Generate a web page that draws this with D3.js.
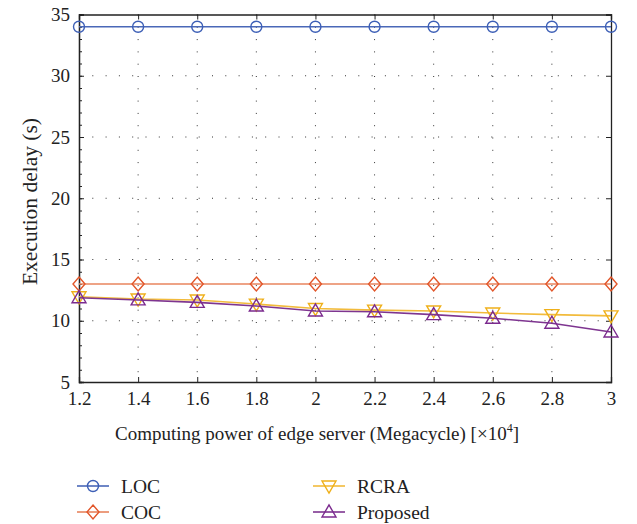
<!DOCTYPE html>
<html>
<head>
<meta charset="utf-8">
<script src="https://cdn.jsdelivr.net/npm/d3@7"></script>
<style>
  body { margin: 0; background: #fff; }
  text { font-family: "Liberation Serif", "DejaVu Serif", serif; fill: #222; }
</style>
</head>
<body>
<div id="chart"></div>
<script>
"use strict";

// data
var xVals = [1.2, 1.4, 1.6, 1.8, 2.0, 2.2, 2.4, 2.6, 2.8, 3.0];
var loc = [34, 34, 34, 34, 34, 34, 34, 34, 34, 34];
var coc = [13, 13, 13, 13, 13, 13, 13, 13, 13, 13];
var rcra = [11.96, 11.77, 11.69, 11.36, 11.0, 10.87, 10.8, 10.63, 10.5, 10.4];
var proposed = [11.88, 11.7, 11.5, 11.2, 10.8, 10.73, 10.5, 10.2, 9.8, 9.08];
var xTicks = [1.2, 1.4, 1.6, 1.8, 2, 2.2, 2.4, 2.6, 2.8, 3];
var yTicks = [5, 10, 15, 20, 25, 30, 35];

var series = [
  { name: "LOC", values: loc, color: "#3d5fb6", line: "#4a68b8", marker: "circle" },
  { name: "COC", values: coc, color: "#e2562a", line: "#e8845e", marker: "diamond" },
  { name: "RCRA", values: rcra, color: "#efb01a", line: "#f2bb3c", marker: "down" },
  { name: "Proposed", values: proposed, color: "#7b2a8e", line: "#7e3590", marker: "up" }
];

var W = 637, H = 524;
var margin = { top: 14.5, left: 79, right: 26, bottom: 142 };
var width = W - margin.left - margin.right,
    height = H - margin.top - margin.bottom;

var svg = d3.select("#chart").append("svg")
  .attr("width", W).attr("height", H);

var g = svg.append("g")
  .attr("transform", "translate(" + margin.left + "," + margin.top + ")");

var x = d3.scaleLinear().domain([1.2, 3]).range([0, width]);
var y = d3.scaleLinear().domain([5, 35]).range([height, 0]);

// dotted grid
g.append("g").selectAll("line.gx")
  .data(xTicks.slice(1, -1)).enter().append("line")
  .attr("x1", d => x(d)).attr("x2", d => x(d))
  .attr("y1", 0).attr("y2", height)
  .attr("stroke", "#333").attr("stroke-width", 1)
  .attr("stroke-dasharray", "1,11.3");
g.append("g").selectAll("line.gy")
  .data(yTicks.slice(1, -1)).enter().append("line")
  .attr("y1", d => y(d)).attr("y2", d => y(d))
  .attr("x1", 0).attr("x2", width)
  .attr("stroke", "#333").attr("stroke-width", 1)
  .attr("stroke-dasharray", "1,12.3");

// axes with inward ticks
var xAxis = d3.axisBottom(x).tickValues(xTicks).tickSize(-5).tickPadding(9)
  .tickFormat(d3.format("~g"));
var yAxis = d3.axisLeft(y).tickValues(yTicks).tickSize(-5).tickPadding(9);

var gx = g.append("g").attr("transform", "translate(0," + height + ")").call(xAxis);
var gy = g.append("g").call(yAxis);
g.append("g").call(d3.axisTop(x).tickValues(xTicks).tickSize(-5).tickFormat(""));
g.append("g").attr("transform", "translate(" + width + ",0)")
  .call(d3.axisRight(y).tickValues(yTicks).tickSize(-5).tickFormat(""));
// minor ticks on the left axis
g.append("g").call(d3.axisLeft(y).tickValues(d3.range(5, 36, 1)).tickSize(-3).tickFormat(""));

g.selectAll(".domain").attr("stroke", "#222").attr("stroke-width", 1.3);
g.selectAll(".tick line").attr("stroke", "#222");
g.selectAll(".tick text").style("font-size", "19px").attr("fill", "#222")
  .style("font-family", "'Liberation Serif', serif");
gx.selectAll(".tick text").attr("dy", "0.72em");

// lines and markers
var line = d3.line().x((d, i) => x(xVals[i])).y(d => y(d));

function marker(sel, type, color) {
  if (type === "circle") {
    sel.append("circle").attr("r", 5.5);
  } else if (type === "diamond") {
    sel.append("path").attr("d", "M0,-7L6,0L0,7L-6,0Z");
  } else if (type === "down") {
    sel.append("path").attr("d", "M-7,-5L7,-5L0,7Z");
  } else {
    sel.append("path").attr("d", "M-7,5L7,5L0,-7Z");
  }
  sel.selectAll("circle,path").attr("fill", "none").attr("stroke", color).attr("stroke-width", 1.4);
}

series.forEach(function (s) {
  g.append("path").datum(s.values)
    .attr("d", line)
    .attr("fill", "none").attr("stroke", s.line).attr("stroke-width", 1.6);
  g.selectAll(null).data(s.values).enter().append("g")
    .attr("transform", (d, i) => "translate(" + x(xVals[i]) + "," + y(d) + ")")
    .each(function () { marker(d3.select(this), s.marker, s.color); });
});

// axis titles
var xt = svg.append("text")
  .attr("x", 317).attr("y", 440)
  .attr("text-anchor", "middle")
  .style("font-size", "19px");
xt.append("tspan").text("Computing power of edge server (Megacycle) [×10");
xt.append("tspan").attr("dy", -8).style("font-size", "12px").text("4");
xt.append("tspan").attr("dy", 8).text("]");

svg.append("text")
  .attr("transform", "translate(37,285) rotate(-90)")
  .attr("textLength", 167).attr("lengthAdjust", "spacingAndGlyphs")
  .style("font-size", "21px")
  .text("Execution delay (s)");

// legend
var legendPos = [
  { x: 77, y: 486 }, { x: 77, y: 512 }, { x: 313, y: 486 }, { x: 313, y: 512 }
];
series.forEach(function (s, i) {
  var p = legendPos[i];
  var lg = svg.append("g").attr("transform", "translate(" + p.x + "," + p.y + ")");
  lg.append("line").attr("x1", 0).attr("x2", 32).attr("y1", 0).attr("y2", 0)
    .attr("stroke", s.line).attr("stroke-width", 1.6);
  var m = lg.append("g").attr("transform", "translate(16,0)");
  marker(m, s.marker, s.color);
  lg.append("text").attr("x", 44).attr("y", 0).attr("dy", "0.35em")
    .style("font-size", "19.5px").text(s.name);
});
</script>
</body>
</html>
